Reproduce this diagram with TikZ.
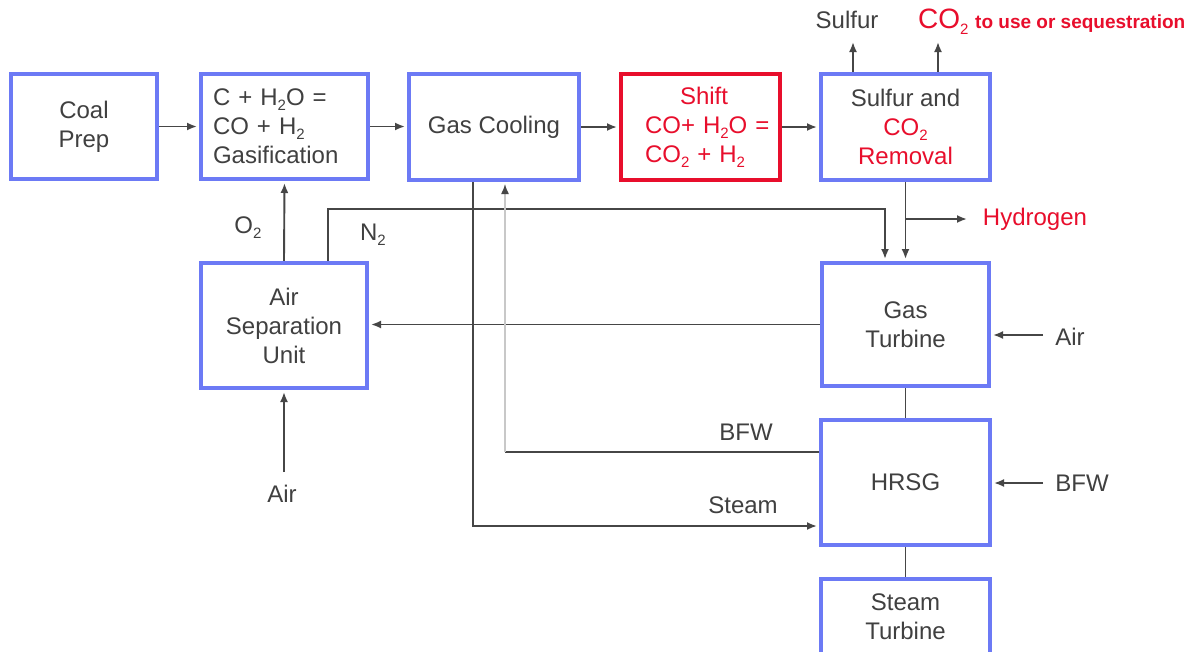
\documentclass[tikz,border=0pt]{standalone}
\usepackage{fontspec}
\setmainfont{Liberation Sans}
\usetikzlibrary{arrows.meta,backgrounds}
\definecolor{boxblue}{RGB}{108,122,245}
\definecolor{hired}{RGB}{232,14,44}
\definecolor{txtgray}{RGB}{64,64,64}
\definecolor{lngray}{RGB}{70,70,70}
\definecolor{ltgray}{RGB}{200,200,200}
\newcommand\lowsub[1]{\raisebox{-0.4ex}{\fontsize{15}{15}\selectfont #1}}
\begin{document}
\begin{tikzpicture}[x=1pt,y=-1pt,
  font=\fontsize{24}{29}\selectfont, text=txtgray,
  box/.style={draw=boxblue, line width=4pt, fill=white, align=center, inner sep=2pt},
  redbox/.style={box, draw=hired, text=hired},
  arr/.style={draw=lngray, line width=1.9pt, -{Latex[length=10pt,width=8pt]}},
  arrin/.style={arr, shorten >=2pt},
  plain/.style={draw=lngray, line width=1.9pt},
  lightarr/.style={draw=ltgray, line width=1.4pt, shorten >=2pt, -{Latex[length=10pt,width=8pt,color=lngray]}},
  lbl/.style={inner sep=0pt}]
\useasboundingbox (0,0) rectangle (1192,651);
\clip (0,0) rectangle (1192,651);

% boxes
\node[box, minimum width=146pt, minimum height=105pt] (coal) at (84,126.5) {Coal\\Prep};
\node[box, minimum width=167pt, minimum height=105pt, text width=143pt, inner xsep=12pt, align=left] (gasif) at (284.5,126.5) {C + H\lowsub{2}O =\\CO + H\lowsub{2}\\Gasification};
\node[box, minimum width=170pt, minimum height=106pt] (cool) at (494,127) {Gas Cooling};
\node[redbox, minimum width=159pt, minimum height=106pt, text width=111pt, inner xsep=24pt, align=left] (shift) at (700.5,127) {\hspace*{35pt}Shift\\\mbox{CO+ H\lowsub{2}O =}\\\mbox{CO\lowsub{2} + H\lowsub{2}}};
\node[box, minimum width=169pt, minimum height=106pt] (sulf) at (905.5,127) {Sulfur and\\\textcolor{hired}{CO\lowsub{2}}\\\textcolor{hired}{Removal}};
\node[box, minimum width=167pt, minimum height=123pt] (gt) at (905.5,324.5) {Gas\\Turbine};
\node[box, minimum width=169pt, minimum height=125pt] (hrsg) at (905.5,482.5) {HRSG};
\node[box, minimum width=169pt, minimum height=76pt] (st) at (905.5,617) {Steam\\Turbine};
\node[box, minimum width=166pt, minimum height=125pt] (asu) at (284,325.5) {Air\\Separation\\Unit};

% labels
\node[lbl] (lsulfur) at (847,20) {Sulfur};
\node[lbl, anchor=west, text=hired] (lco2) at (918,22) {{\fontsize{28}{30}\selectfont CO\lowsub{2}} {\fontsize{19}{22}\selectfont\bfseries to use or sequestration}};
\node[lbl, text=hired] (lh2) at (1035,219) {Hydrogen};
\node[lbl] (lo2) at (248,228) {O\lowsub{2}};
\node[lbl] (ln2) at (373,235) {N\lowsub{2}};
\node[lbl] (lbfw1) at (746,432) {BFW};
\node[lbl] (lsteam) at (743,505) {Steam};
\node[lbl] (lairgt) at (1070,337) {Air};
\node[lbl] (lbfw2) at (1082,483) {BFW};
\node[lbl] (lairasu) at (282,494) {Air};

% free ends and corners
\coordinate (sulfup) at (853,42);
\coordinate (co2up) at (938,42);
\coordinate (n2corner) at (328,209);
\coordinate (n2turn) at (885,209);
\coordinate (h2j) at (906,219);
\coordinate (h2end) at (967,219);
\coordinate (airgtin) at (1043,335);
\coordinate (bfwin) at (1043,483);
\coordinate (airasuin) at (284,472);
\coordinate (steamx) at (473,526);
\coordinate (bfwx) at (505,452);

\begin{pgfonlayer}{background}
\fill[white] (0,0) rectangle (1192,651);
\draw[arrin] (coal.east) -- (coal.east -| gasif.west);
\draw[arrin] (gasif.east) -- (gasif.east -| cool.west);
\draw[arrin] (cool.east) -- (cool.east -| shift.west);
\draw[arrin] (shift.east) -- (shift.east -| sulf.west);
\draw[arr] (sulf.north -| sulfup) -- (sulfup);
\draw[arr] (sulf.north -| co2up) -- (co2up);
\draw[arrin] (sulf.south) -- (gt.north);
\draw[arr] (h2j) -- (h2end);
\draw[arrin] (asu.north) -- (gasif.south);
\draw[arrin] (asu.north -| n2corner) -- (n2corner) -- (n2turn) -- (gt.north -| n2turn);
\draw[arrin] (gt.west) -- (gt.west -| asu.east);
\draw[plain] (gt.south) -- (hrsg.north);
\draw[plain] (hrsg.south) -- (st.north);
\draw[arrin] (airgtin) -- (airgtin -| gt.east);
\draw[arrin] (bfwin) -- (bfwin -| hrsg.east);
\draw[arrin] (airasuin) -- (asu.south);
\draw[arrin] (cool.south -| steamx) -- (steamx) -- (steamx -| hrsg.west);
\draw[plain] (bfwx -| hrsg.west) -- (bfwx);
\draw[lightarr] (bfwx) -- (cool.south -| bfwx);
\end{pgfonlayer}
\end{tikzpicture}
\end{document}
